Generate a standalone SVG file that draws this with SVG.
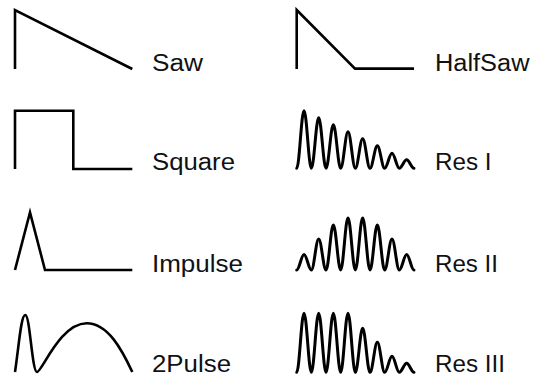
<svg xmlns="http://www.w3.org/2000/svg" width="542" height="376" viewBox="0 0 542 376">
<style>
.w{fill:none;stroke:#000;stroke-width:2.6;stroke-linejoin:miter;stroke-linecap:butt}
.r{fill:none;stroke:#000;stroke-width:3;stroke-linejoin:round;stroke-linecap:round}
.t{font-family:"Liberation Sans",Arial,Helvetica,sans-serif;font-size:23px;fill:#111}
</style>
<rect width="542" height="376" fill="#fff"/>
<g id="saw">
<path class="w" d="M15,69 V10 L132.3,69"/>
<text class="t" x="152" y="70.5" textLength="51" lengthAdjust="spacingAndGlyphs">Saw</text>
</g>
<g id="halfsaw">
<path class="w" d="M296.7,69 V10 L355,68.6 H414"/>
<text class="t" x="435" y="70.5" textLength="94.5" lengthAdjust="spacingAndGlyphs">HalfSaw</text>
</g>
<g id="square">
<path class="w" d="M15,169 V110.7 H73.3 V169 H132.3"/>
<text class="t" x="152" y="170" textLength="83" lengthAdjust="spacingAndGlyphs">Square</text>
</g>
<g id="res1">
<path class="r" d="M296.7,168.3 c2.67,0 4.66,-57.5 7.33,-57.5 c2.67,0 4.66,57.5 7.33,57.5 c2.67,0 4.66,-50.5 7.33,-50.5 c2.67,0 4.66,50.5 7.33,50.5 c2.67,0 4.66,-43.5 7.33,-43.5 c2.67,0 4.66,43.5 7.33,43.5 c2.67,0 4.66,-36.5 7.33,-36.5 c2.67,0 4.66,36.5 7.33,36.5 c2.67,0 4.66,-29.5 7.33,-29.5 c2.67,0 4.66,29.5 7.33,29.5 c2.67,0 4.66,-22.5 7.33,-22.5 c2.67,0 4.66,22.5 7.33,22.5 c2.67,0 4.66,-15 7.33,-15 c2.67,0 4.66,15 7.33,15 c2.67,0 4.66,-8.5 7.33,-8.5 c2.67,0 4.66,8.5 7.33,8.5"/>
<text class="t" x="435" y="169.5" textLength="56.5" lengthAdjust="spacingAndGlyphs">Res I</text>
</g>
<g id="impulse">
<path class="w" d="M15,270 L30,212.3 L45,270 H132.3"/>
<text class="t" x="152" y="271.5" textLength="91" lengthAdjust="spacingAndGlyphs">Impulse</text>
</g>
<g id="res2">
<path class="r" d="M296.7,270 c2.67,0 4.66,-15.5 7.33,-15.5 c2.67,0 4.66,15.5 7.33,15.5 c2.67,0 4.66,-31 7.33,-31 c2.67,0 4.66,31 7.33,31 c2.67,0 4.66,-45 7.33,-45 c2.67,0 4.66,45 7.33,45 c2.67,0 4.66,-52 7.33,-52 c2.67,0 4.66,52 7.33,52 c2.67,0 4.66,-52 7.33,-52 c2.67,0 4.66,52 7.33,52 c2.67,0 4.66,-45 7.33,-45 c2.67,0 4.66,45 7.33,45 c2.67,0 4.66,-31 7.33,-31 c2.67,0 4.66,31 7.33,31 c2.67,0 4.66,-15.5 7.33,-15.5 c2.67,0 4.66,15.5 7.33,15.5"/>
<text class="t" x="435" y="271.5" textLength="63" lengthAdjust="spacingAndGlyphs">Res II</text>
</g>
<g id="twopulse">
<path class="w" d="M15,372 C19,345 21,315 25.3,315 C30,315 32,372 37,372 C42,372 60,323.3 86.7,323.3 C108,323.3 122,350 132.3,372"/>
<text class="t" x="152" y="372" textLength="79" lengthAdjust="spacingAndGlyphs">2Pulse</text>
</g>
<g id="res3">
<path class="r" d="M296.7,372.3 c2.67,0 4.66,-59 7.33,-59 c2.67,0 4.66,59 7.33,59 c2.67,0 4.66,-59 7.33,-59 c2.67,0 4.66,59 7.33,59 c2.67,0 4.66,-59 7.33,-59 c2.67,0 4.66,59 7.33,59 c2.67,0 4.66,-59 7.33,-59 c2.67,0 4.66,59 7.33,59 c2.67,0 4.66,-44 7.33,-44 c2.67,0 4.66,44 7.33,44 c2.67,0 4.66,-30 7.33,-30 c2.67,0 4.66,30 7.33,30 c2.67,0 4.66,-16 7.33,-16 c2.67,0 4.66,16 7.33,16 c2.67,0 4.66,-9 7.33,-9 c2.67,0 4.66,9 7.33,9"/>
<text class="t" x="435" y="372" textLength="70" lengthAdjust="spacingAndGlyphs">Res III</text>
</g>
</svg>
